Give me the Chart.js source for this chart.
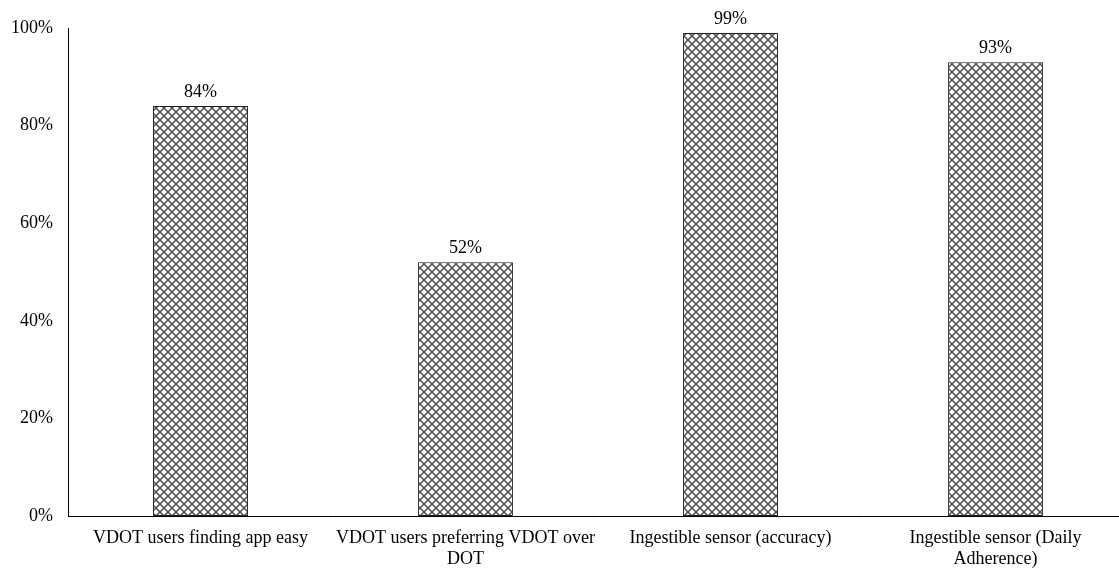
<!DOCTYPE html>
<html>
<head>
<meta charset="utf-8">
<script src="https://cdn.jsdelivr.net/npm/chart.js@4/dist/chart.umd.min.js"></script>
<style>
  html, body { margin: 0; padding: 0; background: #fff; overflow: hidden; }
  #wrap { width: 1128px; height: 570px; }
</style>
</head>
<body>
<div id="wrap"><canvas id="c" width="1128" height="570"></canvas></div>
<script>
// Survey / sensor outcome shares (%)
const categories = [
  'VDOT users finding app easy',
  ['VDOT users preferring VDOT over', 'DOT'],
  'Ingestible sensor (accuracy)',
  ['Ingestible sensor (Daily', 'Adherence)']
];
const values = [84, 52, 99, 93];
const yTicks = [0, 20, 40, 60, 80, 100];

const FONT = '"Liberation Serif", "Times New Roman", serif';

// Cross-hatch fill used for the bars
function makeHatch() {
  const s = 8;
  const p = document.createElement('canvas');
  p.width = s; p.height = s;
  const g = p.getContext('2d');
  g.fillStyle = '#ffffff';
  g.fillRect(0, 0, s, s);
  g.strokeStyle = '#4d4d4d';
  g.lineWidth = 1.5;
  g.beginPath();
  g.moveTo(-1, -1); g.lineTo(s + 1, s + 1);
  g.moveTo(s + 1, -1); g.lineTo(-1, s + 1);
  g.stroke();
  return g.createPattern(p, 'repeat');
}

// Percent labels above each bar
const valueLabels = {
  id: 'valueLabels',
  afterDatasetsDraw(chart) {
    const ctx = chart.ctx;
    const meta = chart.getDatasetMeta(0);
    ctx.save();
    ctx.font = '18px ' + FONT;
    ctx.fillStyle = '#000';
    ctx.textAlign = 'center';
    ctx.textBaseline = 'bottom';
    meta.data.forEach((bar, i) => {
      ctx.fillText(values[i] + '%', bar.x, bar.y - 5);
    });
    ctx.restore();
  }
};

new Chart(document.getElementById('c'), {
  type: 'bar',
  data: {
    labels: categories,
    datasets: [{
      data: values,
      backgroundColor: makeHatch(),
      borderColor: '#222222',
      borderWidth: 1,
      borderSkipped: false,
      categoryPercentage: 1,
      barPercentage: 0.358
    }]
  },
  options: {
    responsive: false,
    animation: false,
    devicePixelRatio: 1,
    layout: { padding: { top: 28, right: 0, left: 0, bottom: 0 } },
    plugins: { legend: { display: false }, tooltip: { enabled: false } },
    scales: {
      x: {
        grid: { display: false, drawTicks: false },
        border: { display: true, color: '#000', width: 1 },
        ticks: {
          color: '#000',
          font: { family: FONT, size: 18, lineHeight: 1.15 },
          padding: 12,
          maxRotation: 0,
          autoSkip: false
        },
        afterFit(scale) { scale.height = 54; }
      },
      y: {
        min: 0, max: 100,
        afterBuildTicks(scale) { scale.ticks = yTicks.map(v => ({ value: v })); },
        grid: { display: false, drawTicks: false },
        border: { display: true, color: '#000', width: 1 },
        ticks: {
          color: '#000',
          font: { family: FONT, size: 18 },
          padding: 15,
          callback: v => v + '%'
        },
        afterFit(scale) { scale.width = 68; }
      }
    }
  },
  plugins: [valueLabels]
});
</script>
</body>
</html>
